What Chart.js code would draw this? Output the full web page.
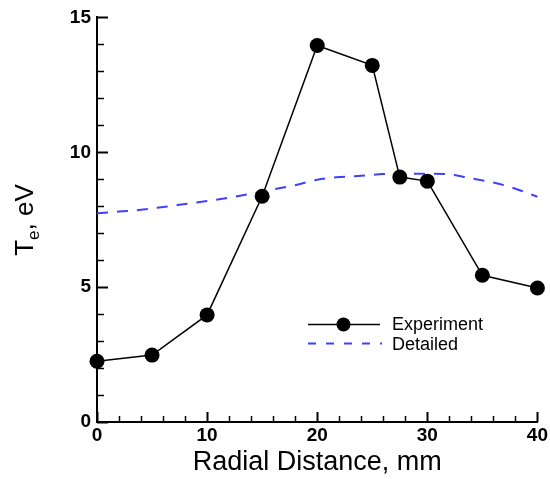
<!DOCTYPE html>
<html>
<head>
<meta charset="utf-8">
<script src="https://cdn.jsdelivr.net/npm/chart.js@4.4.1/dist/chart.umd.min.js"></script>
<style>
  html, body { margin: 0; padding: 0; background: #fff; }
  #wrap { width: 550px; height: 479px; }
</style>
</head>
<body>
<div id="wrap"><canvas id="teChart"></canvas></div>
<script>
// --- data ---
const radialExp = [0, 5, 10, 15, 20, 25, 27.5, 30, 35, 40];
const teExp = [2.25, 2.48, 3.97, 8.37, 13.96, 13.22, 9.08, 8.93, 5.44, 4.97];

const radialDet = [0, 2, 4, 6, 8, 10, 12, 14, 16, 18, 20, 22, 24, 26, 28, 30, 32, 34, 36, 38, 40];
const teDet = [7.74, 7.8, 7.87, 7.97, 8.08, 8.19, 8.32, 8.46, 8.62, 8.78, 8.98, 9.08, 9.13, 9.19, 9.2, 9.2, 9.18, 9.03, 8.88, 8.65, 8.35];

const xMajor = [0, 10, 20, 30, 40];
const xMinor = [2, 4, 6, 8, 12, 14, 16, 18, 22, 24, 26, 28, 32, 34, 36, 38];
const yMajor = [0, 5, 10, 15];
const yMinor = [1, 2, 3, 4, 6, 7, 8, 9, 11, 12, 13, 14];

const seriesNames = ['Experiment', 'Detailed'];
const xTitle = 'Radial Distance, mm';

const BLUE = '#4040ff';
const FONT = '"Liberation Sans", Arial, Helvetica, sans-serif';

// inward tick marks (Tecplot style)
const inwardTicks = {
    id: 'inwardTicks',
    afterDraw(chart) {
        const { ctx, scales: { x, y } } = chart;
        ctx.save();
        ctx.strokeStyle = '#000';
        ctx.lineCap = 'butt';
        const drawX = (vals, len, w) => {
            ctx.lineWidth = w;
            vals.forEach(v => {
                const px = Math.round(x.getPixelForValue(v)) + 0.5;
                ctx.beginPath();
                ctx.moveTo(px, y.bottom);
                ctx.lineTo(px, y.bottom - len);
                ctx.stroke();
            });
        };
        const drawY = (vals, len, w) => {
            ctx.lineWidth = w;
            vals.forEach(v => {
                const py = Math.round(y.getPixelForValue(v)) + 0.5;
                ctx.beginPath();
                ctx.moveTo(x.left, py);
                ctx.lineTo(x.left + len, py);
                ctx.stroke();
            });
        };
        drawX(xMajor, 10, 2);
        drawX(xMinor, 6, 1.5);
        drawY(yMajor, 11, 2);
        drawY(yMinor, 7, 1.5);
        ctx.restore();
    }
};

// y title with subscript e
const yTitle = {
    id: 'yTitle',
    afterDraw(chart) {
        const ctx = chart.ctx;
        ctx.save();
        ctx.translate(33, 220);
        ctx.rotate(-Math.PI / 2);
        ctx.fillStyle = '#000';
        ctx.textBaseline = 'alphabetic';
        ctx.textAlign = 'left';
        const big = '26px ' + FONT, small = '17px ' + FONT;
        ctx.font = big;
        const wT = ctx.measureText('T').width;
        ctx.font = small;
        const wE = ctx.measureText('e').width;
        ctx.font = big;
        const wRest = ctx.measureText(', eV').width;
        let x0 = -(wT + wE + wRest) / 2;
        ctx.fillText('T', x0, 0);
        x0 += wT;
        ctx.font = small;
        ctx.fillText('e', x0, 6);
        x0 += wE;
        ctx.font = big;
        ctx.fillText(', eV', x0, 0);
        ctx.restore();
    }
};

// legend inside the plot
const innerLegend = {
    id: 'innerLegend',
    afterDraw(chart) {
        const ctx = chart.ctx;
        ctx.save();
        // Experiment
        ctx.strokeStyle = '#000';
        ctx.lineWidth = 1.5;
        ctx.beginPath();
        ctx.moveTo(308, 324.5);
        ctx.lineTo(380, 324.5);
        ctx.stroke();
        ctx.fillStyle = '#000';
        ctx.beginPath();
        ctx.arc(343.5, 324.5, 7, 0, Math.PI * 2);
        ctx.fill();
        // Detailed
        ctx.strokeStyle = BLUE;
        ctx.lineWidth = 2;
        ctx.setLineDash([8, 10]);
        ctx.beginPath();
        ctx.moveTo(308, 343.5);
        ctx.lineTo(382, 343.5);
        ctx.stroke();
        ctx.setLineDash([]);
        ctx.font = '18px ' + FONT;
        ctx.textBaseline = 'middle';
        ctx.textAlign = 'left';
        ctx.fillText(seriesNames[0], 392, 325);
        ctx.fillText(seriesNames[1], 392, 345);
        ctx.restore();
    }
};

new Chart(document.getElementById('teChart'), {
    type: 'scatter',
    data: {
        datasets: [
            {
                label: seriesNames[0],
                data: radialExp.map((r, i) => ({ x: r, y: teExp[i] })),
                showLine: true,
                borderColor: '#000',
                borderWidth: 1.5,
                backgroundColor: '#000',
                pointRadius: 7.5,
                pointHoverRadius: 7.5,
                pointBorderWidth: 0,
                clip: false,
                tension: 0
            },
            {
                label: seriesNames[1],
                data: radialDet.map((r, i) => ({ x: r, y: teDet[i] })),
                showLine: true,
                borderColor: BLUE,
                borderWidth: 2,
                borderDash: [11, 9],
                pointRadius: 0,
                cubicInterpolationMode: 'monotone',
                clip: false
            }
        ]
    },
    options: {
        responsive: true,
        maintainAspectRatio: false,
        animation: false,
        layout: { padding: { top: 17, right: 12, left: 0, bottom: 0 } },
        plugins: {
            legend: { display: false },
            tooltip: { enabled: false }
        },
        scales: {
            x: {
                type: 'linear',
                min: 0,
                max: 40,
                afterFit: s => { s.height = 57; },
                afterBuildTicks: s => { s.ticks = xMajor.map(v => ({ value: v })); },
                grid: { display: false, drawTicks: false },
                border: { display: true, color: '#000', width: 2 },
                ticks: {
                    color: '#000',
                    padding: 2,
                    maxRotation: 0,
                    font: { family: FONT, size: 19, weight: 'bold' }
                },
                title: {
                    display: true,
                    text: xTitle,
                    color: '#000',
                    padding: { top: 0, bottom: 0 },
                    font: { family: FONT, size: 27 }
                }
            },
            y: {
                type: 'linear',
                min: 0,
                max: 15,
                afterFit: s => { s.width = 97; },
                afterBuildTicks: s => { s.ticks = yMajor.map(v => ({ value: v })); },
                grid: { display: false, drawTicks: false },
                border: { display: true, color: '#000', width: 2 },
                ticks: {
                    color: '#000',
                    padding: 6,
                    font: { family: FONT, size: 19, weight: 'bold' }
                }
            }
        }
    },
    plugins: [inwardTicks, yTitle, innerLegend]
});
</script>
</body>
</html>
